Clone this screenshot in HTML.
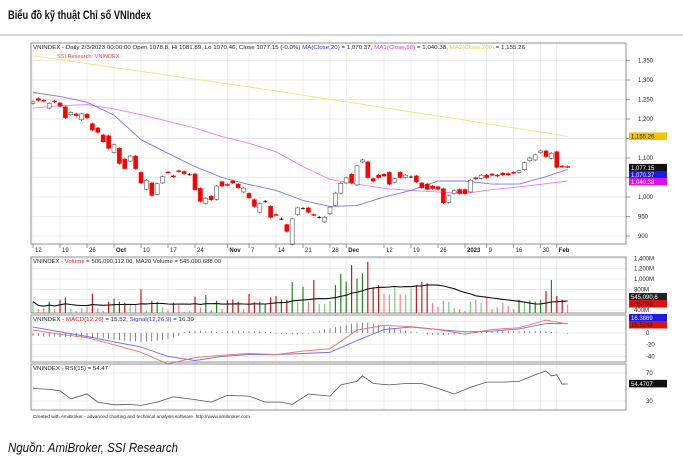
<!DOCTYPE html>
<html><head><meta charset="utf-8">
<style>
body{margin:0;background:#fff;width:683px;height:465px;overflow:hidden}
svg{display:block;font-family:"Liberation Sans",sans-serif}
</style></head><body>
<svg id="c" width="683" height="465" viewBox="0 0 683 465">
<text x="8" y="19" font-size="12" font-weight="bold" fill="#111" textLength="143" lengthAdjust="spacingAndGlyphs">Biểu đồ kỹ thuật Chỉ số VNIndex</text>
<line x1="0" y1="35" x2="683" y2="35" stroke="#c8c8c8" stroke-width="1.5"/>
<text x="8" y="452" font-size="13" font-style="italic" fill="#111" textLength="170" lengthAdjust="spacingAndGlyphs">Nguồn: AmiBroker, SSI Research</text>
<text x="33" y="418" font-size="4.6" fill="#222" textLength="217" lengthAdjust="spacingAndGlyphs">Created with AmiBroker - advanced charting and technical analysis software. http://www.amibroker.com</text>
<g id="grid"></g><g id="marks"></g><g id="axes"></g>
</svg>
<script>
// ---- data ----
const opens=[1240,1252,1248,1228,1246,1241,1231,1211,1213,1198,1212,1188,1177,1159,1157,1114,1125,1097,1092,1105,1063,1020,1036,1007,1036,1064,1054,1067,1065,1058,1059,1022,983,1002,994,1039,1032,1041,1033,1013,1009,993,961,989,976,955,944,929,878,955,971,972,955,948,936,957,979,1010,1036,1058,1031,1090,1090,1047,1056,1058,1063,1038,1063,1050,1052,1054,1036,1033,1028,1026,1021,986,1009,1019,1019,1013,1049,1048,1056,1059,1056,1061,1060,1063,1063,1070,1093,1095,1114,1118,1099,1116,1079,1078];
const closes=[1244,1248,1246,1240,1244,1233,1203,1217,1209,1213,1203,1172,1166,1142,1125,1134,1086,1073,1105,1073,1036,1043,1004,1034,1052,1063,1052,1066,1060,1058,1019,989,997,993,1028,1028,1031,1036,1024,1023,998,976,983,989,948,954,944,912,944,972,971,961,954,948,948,974,1010,1035,1049,1036,1080,1095,1050,1041,1050,1054,1033,1047,1050,1056,1052,1039,1024,1020,1022,1020,985,1003,1017,1009,1009,1043,1047,1056,1050,1056,1054,1057,1057,1061,1067,1088,1100,1108,1118,1104,1112,1076,1078,1077];
const volumes=[560,420,440,560,420,600,640,420,380,440,460,720,430,380,560,620,560,540,500,500,800,400,580,560,450,400,540,500,360,380,660,450,690,400,580,420,590,600,560,420,710,550,560,520,640,670,600,600,940,560,850,560,980,520,520,580,880,1100,950,1270,1010,1110,1335,840,880,720,700,850,700,700,820,880,950,920,540,460,580,560,440,420,380,560,600,540,640,420,450,540,480,420,600,550,580,560,600,770,980,670,600,506];
const maIdx=[0,5,10,15,20,25,30,35,40,45,50,55,60,65,70,75,80,85,90,95,99];
const ma20=[1268,1258,1243,1210,1147,1112,1078,1050,1032,1017,991,976,978,1000,1017,1041,1041,1033,1033,1052,1071];
const ma50=[1228,1234,1237,1226,1211,1194,1177,1155,1138,1116,1078,1045,1033,1022,1017,1013,1009,1019,1026,1034,1041];
const ma200=[1362,1352,1342,1332,1322,1312,1302,1292,1282,1272,1261,1250,1240,1229,1218,1208,1197,1186,1175,1165,1155];
const macd=[5,-2,-8,-20,-33,-53,-42,-38,-35,-37,-31,-27,5,13,11,6,-2,6,9,22,15.5];
const signal=[10,2,-6,-15,-24,-40,-47,-40,-37,-37,-35,-33,-13,6,10,6,2,3,7,16,16.4];
const hist=[-5,-5,-6,-6,-6,-7,-7,-7,-7,-8,-8,-8,-8,-8,-10,-11,-12,-13,-14,-14,-15,-15,-14,-13,-12,-10,-8,-5,2,3,3,4,3,3,2,2,3,4,4,3,3,3,2,2,2,-1,-1,-2,-2,-2,-1,-1,2,4,6,8,10,12,14,16,18,18,18,16,14,12,10,8,6,4,2,1,0,-2,-3,-3,-3,-3,-2,-2,-1,1,2,2,3,3,3,3,3,3,3,3,3,3,3,3,2,1,0,-1];
const rsiIdx=[0,3,5,7,10,12,15,18,20,23,26,30,33,36,40,43,46,48,51,55,57,60,61,63,66,69,72,75,78,81,84,87,90,93,95,96,97,98,99];
const rsi=[48,46.6,44.6,33,40,28.5,24.6,25,23.7,28.5,36,32,28.5,38,37,28.5,28.5,25,40,37,53,58,66,55,53,55,55,48,40,49.5,57,57,58,67.5,73,66,67.5,54,54.47];
const dateIdx=[0,5,10,15,20,25,30,36,40,45,50,55,58,65,70,75,80,84,89,94,97];
const dateLbl=["12","19","26","Oct","10","17","24","Nov","7","14","21","28","Dec","12","19","26","2023","9","16","30","Feb"];
const priceTicks=[900,950,1000,1050,1100,1150,1200,1250,1300,1350];
const volTicks=[400,600,800,1000,1200,1400];
const macdTicks=[-40,-20,0,20];
const rsiTicks=[30,70];
// ---- scales ----
const X=i=>33+i*5.4;
const yP=v=>158-(v-1100)*0.39;
const yV=v=>310-(v-400)*0.0516;
const yM=v=>333-v*0.585;
const yR=v=>401-(v-30)*0.7;
const NS="http://www.w3.org/2000/svg";
function mk(par,tag,at){const e=document.createElementNS(NS,tag);for(const k in at)e.setAttribute(k,at[k]);document.getElementById(par).appendChild(e);return e;}
function txt(par,x,y,s,sz,fill,anchor){const e=mk(par,'text',{x:x,y:y,'font-size':sz,fill:fill||'#222','text-anchor':anchor||'start'});e.textContent=s;return e;}
const L=31,R=626;
const panels=[[43,244],[257,313],[315,362],[364,410]];
panels.forEach((p,k)=>{const r=mk('axes','rect',{x:L,y:p[0],width:R-L,height:p[1]-p[0],fill:'none',stroke:'#777','stroke-width':0.8});

});
dateIdx.forEach((d,k)=>{const x=X(d);
panels.forEach(p=>mk('grid','line',{x1:x,y1:p[0],x2:x,y2:p[1],stroke:'#e4e4e4','stroke-width':0.7}));
mk('axes','line',{x1:x,y1:244,x2:x,y2:248,stroke:'#555','stroke-width':0.6});
const t=txt('axes',x+2,252,dateLbl[k],6,'#222');t.setAttribute('font-weight',(k==3||k==7||k==12||k==16||k==20)?'bold':'normal');

});
priceTicks.forEach(v=>{const y=yP(v);mk('grid','line',{x1:L,y1:y,x2:R,y2:y,stroke:'#e4e4e4','stroke-width':0.7});
mk('axes','line',{x1:R,y1:y,x2:R+4,y2:y,stroke:'#555','stroke-width':0.6});
if(v==1150)return;
const t=txt('axes',638,y+2,v.toLocaleString('en-US'),6);

});
volTicks.forEach(v=>{const y=yV(v);mk('grid','line',{x1:L,y1:y,x2:R,y2:y,stroke:'#e4e4e4','stroke-width':0.7});
const t=txt('axes',634,y+2,v.toLocaleString('en-US')+'M',6);

});
macdTicks.forEach(v=>{const y=yM(v);mk('grid','line',{x1:L,y1:y,x2:R,y2:y,stroke:'#e4e4e4','stroke-width':0.7});
const t=txt('axes',646,y+2,String(v),6);

});
rsiTicks.forEach(v=>{const y=yR(v);mk('grid','line',{x1:L,y1:y,x2:R,y2:y,stroke:'#e4e4e4','stroke-width':0.7});
const t=txt('axes',646,y+2,String(v),6);

});
function poly(idx,vals,f,col,w,name){const pts=idx.map((d,k)=>X(d).toFixed(1)+','+f(vals[k]).toFixed(1)).join(' ');
const e=mk('marks','polyline',{points:pts,fill:'none',stroke:col,'stroke-width':w});

}
poly(maIdx,ma200,yP,'#f3e27a',0.9,'ma200-line');
poly(maIdx,ma50,yP,'#f07af0',0.9,'ma50-line');
poly(maIdx,ma20,yP,'#7878f0',0.9,'ma20-line');
opens.forEach((o,i)=>{const c=closes[i],x=X(i),hi=Math.max(o,c)+3,lo=Math.min(o,c)-3;
const down=c<o,eq=c==o;const col=eq?'#000':down?'#f00':'#555';
const w=mk('marks','line',{x1:x,y1:yP(hi),x2:x,y2:yP(lo),stroke:col,'stroke-width':0.8});


const t=yP(Math.max(o,c)),h=Math.max(0.8,yP(Math.min(o,c))-t);
const b=mk('marks','rect',{x:x-2,y:t,width:4,height:h,fill:eq?'#000':down?'#f00':'#fff',stroke:eq?'none':down?'#f00':'#555','stroke-width':0.6});

});
const vma=volumes.map((v,i)=>{const s=volumes.slice(Math.max(0,i-19),i+1);return s.reduce((a,b)=>a+b,0)/s.length;});
volumes.forEach((v,i)=>{const up=closes[i]>=opens[i];const hiV=v>vma[i];
const col=up?(hiV?'#1a8a1a':'#7ccf7c'):(hiV?'#e01010':'#f48080');
const y=Math.max(258,yV(v));const b=mk('marks','rect',{x:X(i)-0.6,y:y,width:1.2,height:313-y,fill:col});

});
const vl=mk('marks','polyline',{points:vma.map((v,i)=>X(i).toFixed(1)+','+yV(v).toFixed(1)).join(' '),fill:'none',stroke:'#111','stroke-width':1.1});


hist.forEach((h,i)=>{const b=mk('marks','line',{x1:X(i),y1:yM(0),x2:X(i),y2:yM(h),stroke:'#333','stroke-width':0.6});

});
poly(maIdx,signal,yM,'#6a6af0',0.9,'macd-signal-line');
poly(maIdx,macd,yM,'#f07070',0.9,'macd-line');
poly(rsiIdx,rsi,yR,'#555',0.8,'rsi-line');
function badge(y,bg,fg,s,name){const r=mk('axes','rect',{x:629,y:y-4,width:38,height:7.5,fill:bg});


txt('axes',631,y+2,s,6,fg);}
badge(yP(1155.26),'#f5c400','#222','1,155.26','ma200-badge');
badge(yP(1077.15)+1,'#111','#fff','1,077.15','close-badge');
badge(yP(1077.15)+8,'#1a1af0','#fff','1,070.37','ma20-badge');
badge(yP(1077.15)+15,'#e010e0','#fff','1,040.38','ma50-badge');
badge(297,'#222','#fff','545,090,6','volume-ma-badge');
badge(304,'#e01010','#222','506,090','volume-badge');
badge(318,'#1a1af0','#fff','16.3869','signal-badge');
badge(325,'#e01010','#222','15.5248','macd-badge');
badge(yR(54.47),'#111','#fff','54.4707','rsi-badge');
function hdr(x,y,parts,name,len){const t=mk('axes','text',{x:x,y:y,'font-size':5.6});
if(len){t.setAttribute('textLength',len);t.setAttribute('lengthAdjust','spacingAndGlyphs');}


parts.forEach(p=>{const s=document.createElementNS(NS,'tspan');s.setAttribute('fill',p[1]);s.textContent=p[0];t.appendChild(s);});}
hdr(33,49,[["VNINDEX - Daily 2/3/2023 00:00:00 Open 1078.8, Hi 1081.89, Lo 1070.46, Close 1077.15 (-0.0%) ","#222"],["MA(Close,20)","#3333ee"],[" = 1,070.37, ","#222"],["MA1(Close,50)","#e030e0"],[" = 1,040.38, ","#222"],["MA2(Close,200)","#e8c830"],[" = 1,155.26","#222"]],'price-header',492);
hdr(57,58,[["SSI Research: VNINDEX","#f04040"]],'ssi-label');
hdr(33,263,[["VNINDEX - ","#222"],["Volume","#e02020"],[" = 506,090,112.00, MA20 Volume = 545,090,688.00","#222"]],'volume-header',188);
hdr(33,321,[["VNINDEX - ","#222"],["MACD(12,26)","#e02020"],[" = 15.52, ","#222"],["Signal(12,26,9)","#3333ee"],[" = 16.39","#222"]],'macd-header',161);
hdr(33,370,[["VNINDEX - RSI(15) = 54.47","#222"]],'rsi-header',75);
</script>
</body></html>
